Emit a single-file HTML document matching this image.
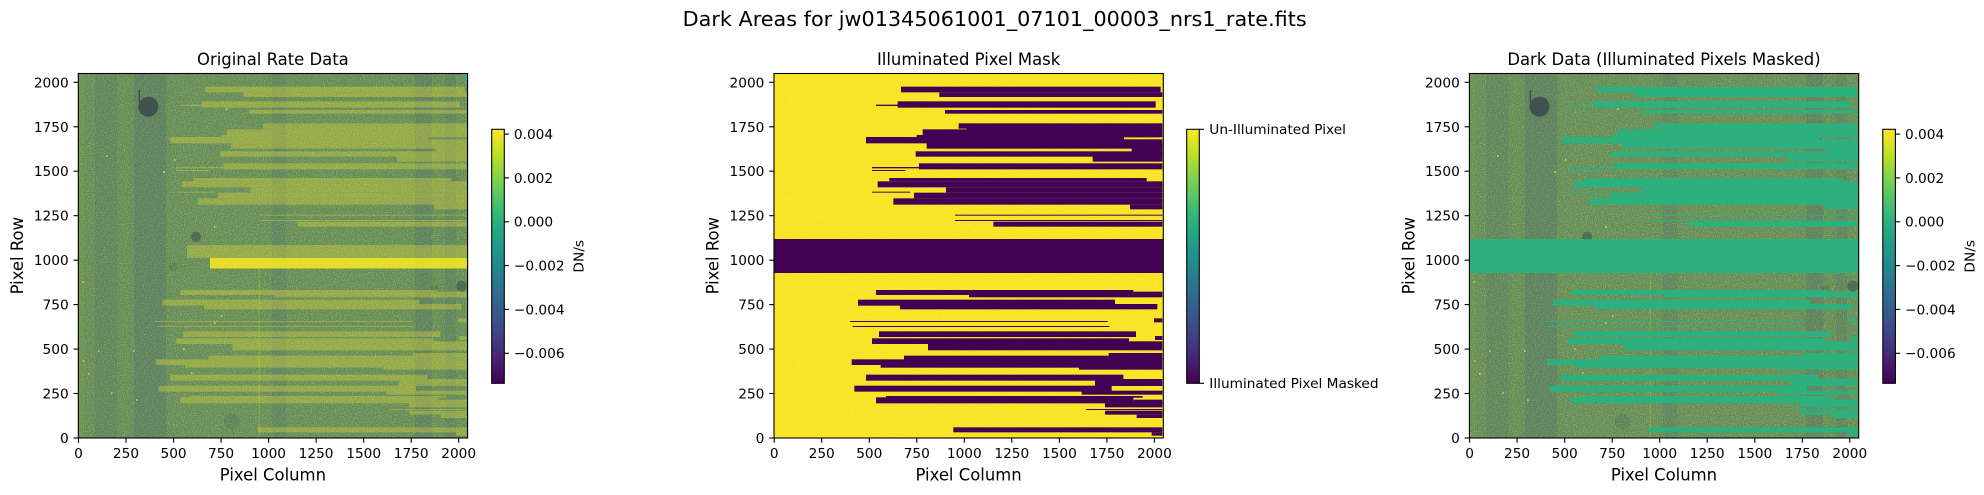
<!DOCTYPE html>
<html>
<head>
<meta charset="utf-8">
<style>
html,body{margin:0;padding:0;background:#fff;}
svg{display:block;}
text{font-family:"DejaVu Sans","Liberation Sans",sans-serif;fill:#000;}
</style>
</head>
<body>
<svg width="1984" height="495" viewBox="0 0 1984 495" xmlns="http://www.w3.org/2000/svg" xmlns:xlink="http://www.w3.org/1999/xlink">
<defs>
  <linearGradient id="vir" x1="0" y1="1" x2="0" y2="0">
    <stop offset="0" stop-color="#440154"/>
    <stop offset="0.1" stop-color="#482475"/>
    <stop offset="0.2" stop-color="#414487"/>
    <stop offset="0.3" stop-color="#355f8d"/>
    <stop offset="0.4" stop-color="#2a788e"/>
    <stop offset="0.5" stop-color="#21918c"/>
    <stop offset="0.6" stop-color="#22a884"/>
    <stop offset="0.7" stop-color="#44bf70"/>
    <stop offset="0.8" stop-color="#7ad151"/>
    <stop offset="0.9" stop-color="#bddf26"/>
    <stop offset="1" stop-color="#fde725"/>
  </linearGradient>
  <clipPath id="c1"><rect x="78.3" y="73.5" width="389.3" height="364.5"/></clipPath>
  <clipPath id="c2"><rect x="774" y="73.5" width="389.3" height="364.5"/></clipPath>
  <clipPath id="c3"><rect x="1469.4" y="73.5" width="389.3" height="364.5"/></clipPath>
  <filter id="grain" x="0" y="0" width="100%" height="100%">
    <feTurbulence type="fractalNoise" baseFrequency="0.9" numOctaves="1" seed="4"/>
    <feColorMatrix type="matrix" values="0 0 0 0 0.85  0 0 0 0 0.85  0 0 0 0 0.2  0 0 0 1.8 -0.8"/>
  </filter>
  <filter id="grainDark" x="0" y="0" width="100%" height="100%">
    <feTurbulence type="fractalNoise" baseFrequency="0.9" numOctaves="1" seed="9"/>
    <feColorMatrix type="matrix" values="0 0 0 0 0.22  0 0 0 0 0.27  0 0 0 0 0.45  0 0 0 1.8 -0.8"/>
  </filter>
  <filter id="speck" x="0" y="0" width="100%" height="100%">
    <feTurbulence type="fractalNoise" baseFrequency="0.95" numOctaves="1" seed="7"/>
    <feColorMatrix type="matrix" values="0 0 0 0 0.45  0 0 0 0 0.35  0 0 0 0 0.15  0 0 0 2.2 -1.35"/>
  </filter>

  <g id="bA">
    <rect x="393" y="50" width="779" height="17"/>
    <rect x="508" y="67" width="669" height="14"/>
    <rect x="383" y="94" width="774" height="19"/>
    <rect x="318" y="104" width="67" height="4"/>
    <rect x="525" y="120" width="652" height="11"/>
    <rect x="566" y="160" width="611" height="16"/>
    <rect x="590" y="175" width="587" height="4"/>
    <rect x="458" y="178" width="719" height="17"/>
    <rect x="440" y="195" width="737" height="7"/>
    <rect x="288" y="201" width="774" height="19"/>
    <rect x="1062" y="208" width="115" height="12"/>
    <rect x="470" y="219" width="707" height="17"/>
    <rect x="1085" y="219" width="92" height="43"/>
    <rect x="437" y="244" width="740" height="16"/>
    <rect x="968" y="259" width="209" height="16"/>
    <rect x="447" y="280" width="730" height="18"/>
    <rect x="306" y="291" width="141" height="4"/>
    <rect x="306" y="300" width="100" height="3"/>
    <rect x="358" y="324" width="772" height="10"/>
    <rect x="323" y="334" width="854" height="18"/>
    <rect x="528" y="352" width="649" height="16"/>
    <rect x="306" y="365" width="114" height="3"/>
    <rect x="432" y="368" width="745" height="17"/>
    <rect x="370" y="385" width="807" height="19"/>
    <rect x="1080" y="404" width="97" height="14"/>
    <rect x="555" y="434" width="622" height="3"/>
    <rect x="555" y="450" width="622" height="3"/>
    <rect x="670" y="455" width="507" height="15"/>
  </g>
  <g id="bB">
    <rect x="318" y="108" width="772" height="15"/>
    <rect x="597" y="123" width="580" height="7"/>
    <rect x="1090" y="113" width="87" height="10"/>
    <rect x="264" y="137" width="771" height="18"/>
    <rect x="390" y="150" width="772" height="16"/>
    <rect x="1152" y="193" width="25" height="12"/>
    <rect x="240" y="201" width="773" height="3"/>
    <rect x="248" y="216" width="770" height="3"/>
    <rect x="327" y="232" width="771" height="17"/>
    <rect x="1155" y="246" width="22" height="12"/>
    <rect x="306" y="253" width="771" height="17"/>
    <rect x="474" y="262" width="703" height="27"/>
    <rect x="1016" y="297" width="161" height="23"/>
    <rect x="402" y="305" width="614" height="15"/>
    <rect x="245" y="316" width="932" height="17"/>
    <rect x="332" y="333" width="595" height="8"/>
    <rect x="927" y="333" width="250" height="14"/>
    <rect x="288" y="362" width="772" height="18"/>
    <rect x="975" y="375" width="202" height="21"/>
    <rect x="253" y="395" width="772" height="18"/>
    <rect x="935" y="410" width="242" height="12"/>
    <rect x="348" y="426" width="770" height="5"/>
    <rect x="318" y="430" width="772" height="18"/>
    <rect x="1090" y="437" width="87" height="11"/>
    <rect x="1005" y="445" width="172" height="15"/>
    <rect x="948" y="465" width="229" height="3"/>
    <rect x="1005" y="470" width="172" height="12"/>
    <rect x="1100" y="482" width="77" height="10"/>
    <rect x="550" y="520" width="627" height="15"/>
    <rect x="1145" y="535" width="32" height="10"/>
  </g>

  <g id="bg">
    <rect x="78.3" y="73.5" width="389.3" height="364.5" fill="#5f8a50"/>
    <rect x="78.3" y="73.5" width="389.3" height="364.5" filter="url(#grain)" opacity="0.7"/>
    <rect x="78.3" y="73.5" width="389.3" height="364.5" filter="url(#grainDark)" opacity="0.7"/>
    <g fill="#3b5b7a">
      <rect x="95" y="73.5" width="22" height="364.5" opacity="0.12"/>
      <rect x="134" y="73.5" width="32" height="364.5" opacity="0.2"/>
      <rect x="272" y="73.5" width="14" height="364.5" opacity="0.15"/>
      <rect x="415" y="73.5" width="17" height="364.5" opacity="0.18"/>
      <rect x="445" y="73.5" width="11" height="364.5" opacity="0.15"/>
    </g>
    <rect x="78.3" y="73.5" width="6" height="364.5" fill="#8aa545" opacity="0.2"/>
    <g fill="#34404a">
      <circle cx="148.3" cy="106.7" r="10" opacity="0.75"/>
      <circle cx="196" cy="236.7" r="5" opacity="0.45"/>
      <circle cx="461.7" cy="286" r="5.5" opacity="0.45"/>
      <circle cx="231.7" cy="421.7" r="8" opacity="0.12"/>
      <circle cx="173.3" cy="266.7" r="4.5" opacity="0.15"/>
      <circle cx="435" cy="289" r="4" opacity="0.2"/>
    </g>
    <rect x="138.5" y="90" width="1.5" height="12" fill="#2e3a48" opacity="0.7"/>
    <rect x="258.7" y="266" width="1" height="172" fill="#e8dc35" opacity="0.3"/>
    <g fill="#e6dc38" opacity="0.8">
      <rect x="83" y="360" width="1.5" height="2"/><rect x="88" y="373" width="1.5" height="2"/>
      <rect x="98" y="350" width="1.5" height="2"/><rect x="111" y="392" width="1.5" height="2"/>
      <rect x="133" y="350" width="1.5" height="2"/><rect x="136" y="399" width="1.5" height="2"/>
      <rect x="174" y="159" width="1.5" height="2"/><rect x="183" y="348" width="1.5" height="2"/>
      <rect x="191" y="372" width="1.5" height="2"/><rect x="214" y="226" width="1.5" height="2"/>
      <rect x="226" y="108" width="1.5" height="2"/><rect x="221" y="315" width="1.5" height="2"/>
      <rect x="106" y="155" width="1.5" height="2"/><rect x="214" y="322" width="1.5" height="2"/>
      <rect x="163" y="171" width="2" height="2"/><rect x="82" y="281" width="1.5" height="2"/>
    </g>
  </g>
</defs>

<rect x="0" y="0" width="1984" height="495" fill="#ffffff"/>

<text x="994.7" y="26" font-size="20.6" text-anchor="middle" textLength="624" lengthAdjust="spacingAndGlyphs">Dark Areas for jw01345061001_07101_00003_nrs1_rate.fits</text>

<!-- Panel 1 -->
<g clip-path="url(#c1)">
  <use xlink:href="#bg"/>
  <g transform="translate(74.3,70) scale(0.333333)" fill="#eee232" opacity="0.33"><use xlink:href="#bA"/></g>
  <g transform="translate(74.3,254) scale(0.333333)" fill="#eee232" opacity="0.33"><use xlink:href="#bB"/></g>
  <rect x="187" y="245" width="281" height="13" fill="#e8e035" opacity="0.35"/>
  <rect x="210" y="258" width="258" height="10.5" fill="#f2e424" opacity="0.9"/>
  <rect x="463" y="73.5" width="5" height="8" fill="#2cb17e" opacity="0.8"/>
</g>
<rect x="78.3" y="73.5" width="389.3" height="364.5" fill="none" stroke="#000" stroke-width="1.1"/>
<text x="272.9" y="65" font-size="16.45" text-anchor="middle">Original Rate Data</text>

<!-- Panel 2 -->
<g clip-path="url(#c2)">
  <rect x="774" y="73.5" width="389.3" height="364.5" fill="#fbe527"/>
  <rect x="774" y="73.5" width="389.3" height="364.5" filter="url(#speck)" opacity="0.9"/>
  <g transform="translate(770,70) scale(0.333333)" fill="#440154"><use xlink:href="#bA"/></g>
  <g transform="translate(770,254) scale(0.333333)" fill="#440154"><use xlink:href="#bB"/></g>
  <rect x="774" y="239" width="389.3" height="34" fill="#440154"/>
</g>
<rect x="774" y="73.5" width="389.3" height="364.5" fill="none" stroke="#000" stroke-width="1.1"/>
<text x="968.6" y="65" font-size="16.45" text-anchor="middle">Illuminated Pixel Mask</text>

<!-- Panel 3 -->
<g clip-path="url(#c3)">
  <use xlink:href="#bg" transform="translate(1391.1,0)"/>
  <g transform="translate(1465.4,70) scale(0.333333)" fill="#2cb17e"><use xlink:href="#bA"/></g>
  <g transform="translate(1465.4,254) scale(0.333333)" fill="#2cb17e"><use xlink:href="#bB"/></g>
  <rect x="1469.4" y="239" width="389.3" height="34" fill="#2cb17e"/>
</g>
<rect x="1469.4" y="73.5" width="389.3" height="364.5" fill="none" stroke="#000" stroke-width="1.1"/>
<text x="1664" y="65" font-size="16.45" text-anchor="middle">Dark Data (Illuminated Pixels Masked)</text>

<!-- Ticks -->
<g stroke="#000" stroke-width="1.1">
  <line x1="78.5" y1="438" x2="78.5" y2="442.8"/><line x1="126" y1="438" x2="126" y2="442.8"/><line x1="173.6" y1="438" x2="173.6" y2="442.8"/><line x1="221.1" y1="438" x2="221.1" y2="442.8"/><line x1="268.6" y1="438" x2="268.6" y2="442.8"/><line x1="316.1" y1="438" x2="316.1" y2="442.8"/><line x1="363.7" y1="438" x2="363.7" y2="442.8"/><line x1="411.2" y1="438" x2="411.2" y2="442.8"/><line x1="458.7" y1="438" x2="458.7" y2="442.8"/>
  <line x1="774.2" y1="438" x2="774.2" y2="442.8"/><line x1="821.7" y1="438" x2="821.7" y2="442.8"/><line x1="869.3" y1="438" x2="869.3" y2="442.8"/><line x1="916.8" y1="438" x2="916.8" y2="442.8"/><line x1="964.3" y1="438" x2="964.3" y2="442.8"/><line x1="1011.8" y1="438" x2="1011.8" y2="442.8"/><line x1="1059.4" y1="438" x2="1059.4" y2="442.8"/><line x1="1106.9" y1="438" x2="1106.9" y2="442.8"/><line x1="1154.4" y1="438" x2="1154.4" y2="442.8"/>
  <line x1="1469.6" y1="438" x2="1469.6" y2="442.8"/><line x1="1517.1" y1="438" x2="1517.1" y2="442.8"/><line x1="1564.7" y1="438" x2="1564.7" y2="442.8"/><line x1="1612.2" y1="438" x2="1612.2" y2="442.8"/><line x1="1659.7" y1="438" x2="1659.7" y2="442.8"/><line x1="1707.2" y1="438" x2="1707.2" y2="442.8"/><line x1="1754.8" y1="438" x2="1754.8" y2="442.8"/><line x1="1802.3" y1="438" x2="1802.3" y2="442.8"/><line x1="1849.8" y1="438" x2="1849.8" y2="442.8"/>
  <line x1="73.5" y1="438" x2="78.3" y2="438"/><line x1="73.5" y1="393.5" x2="78.3" y2="393.5"/><line x1="73.5" y1="349.1" x2="78.3" y2="349.1"/><line x1="73.5" y1="304.6" x2="78.3" y2="304.6"/><line x1="73.5" y1="260.2" x2="78.3" y2="260.2"/><line x1="73.5" y1="215.7" x2="78.3" y2="215.7"/><line x1="73.5" y1="171.2" x2="78.3" y2="171.2"/><line x1="73.5" y1="126.8" x2="78.3" y2="126.8"/><line x1="73.5" y1="82.3" x2="78.3" y2="82.3"/>
  <line x1="769.2" y1="438" x2="774" y2="438"/><line x1="769.2" y1="393.5" x2="774" y2="393.5"/><line x1="769.2" y1="349.1" x2="774" y2="349.1"/><line x1="769.2" y1="304.6" x2="774" y2="304.6"/><line x1="769.2" y1="260.2" x2="774" y2="260.2"/><line x1="769.2" y1="215.7" x2="774" y2="215.7"/><line x1="769.2" y1="171.2" x2="774" y2="171.2"/><line x1="769.2" y1="126.8" x2="774" y2="126.8"/><line x1="769.2" y1="82.3" x2="774" y2="82.3"/>
  <line x1="1464.6" y1="438" x2="1469.4" y2="438"/><line x1="1464.6" y1="393.5" x2="1469.4" y2="393.5"/><line x1="1464.6" y1="349.1" x2="1469.4" y2="349.1"/><line x1="1464.6" y1="304.6" x2="1469.4" y2="304.6"/><line x1="1464.6" y1="260.2" x2="1469.4" y2="260.2"/><line x1="1464.6" y1="215.7" x2="1469.4" y2="215.7"/><line x1="1464.6" y1="171.2" x2="1469.4" y2="171.2"/><line x1="1464.6" y1="126.8" x2="1469.4" y2="126.8"/><line x1="1464.6" y1="82.3" x2="1469.4" y2="82.3"/>
</g>

<g font-size="13.7" text-anchor="middle">
  <text x="78.5" y="458">0</text><text x="126" y="458">250</text><text x="173.6" y="458">500</text><text x="221.1" y="458">750</text><text x="268.6" y="458">1000</text><text x="316.1" y="458">1250</text><text x="363.7" y="458">1500</text><text x="411.2" y="458">1750</text><text x="458.7" y="458">2000</text>
  <text x="774.2" y="458">0</text><text x="821.7" y="458">250</text><text x="869.3" y="458">500</text><text x="916.8" y="458">750</text><text x="964.3" y="458">1000</text><text x="1011.8" y="458">1250</text><text x="1059.4" y="458">1500</text><text x="1106.9" y="458">1750</text><text x="1154.4" y="458">2000</text>
  <text x="1469.6" y="458">0</text><text x="1517.1" y="458">250</text><text x="1564.7" y="458">500</text><text x="1612.2" y="458">750</text><text x="1659.7" y="458">1000</text><text x="1707.2" y="458">1250</text><text x="1754.8" y="458">1500</text><text x="1802.3" y="458">1750</text><text x="1849.8" y="458">2000</text>
</g>

<g font-size="13.7" text-anchor="end">
  <text x="68.7" y="443">0</text><text x="68.7" y="398.5">250</text><text x="68.7" y="354.1">500</text><text x="68.7" y="309.6">750</text><text x="68.7" y="265.2">1000</text><text x="68.7" y="220.7">1250</text><text x="68.7" y="176.2">1500</text><text x="68.7" y="131.8">1750</text><text x="68.7" y="87.3">2000</text>
  <text x="764.4" y="443">0</text><text x="764.4" y="398.5">250</text><text x="764.4" y="354.1">500</text><text x="764.4" y="309.6">750</text><text x="764.4" y="265.2">1000</text><text x="764.4" y="220.7">1250</text><text x="764.4" y="176.2">1500</text><text x="764.4" y="131.8">1750</text><text x="764.4" y="87.3">2000</text>
  <text x="1459.8" y="443">0</text><text x="1459.8" y="398.5">250</text><text x="1459.8" y="354.1">500</text><text x="1459.8" y="309.6">750</text><text x="1459.8" y="265.2">1000</text><text x="1459.8" y="220.7">1250</text><text x="1459.8" y="176.2">1500</text><text x="1459.8" y="131.8">1750</text><text x="1459.8" y="87.3">2000</text>
</g>

<g font-size="16.45" text-anchor="middle">
  <text x="272.9" y="480.5">Pixel Column</text>
  <text x="968.6" y="480.5">Pixel Column</text>
  <text x="1664" y="480.5">Pixel Column</text>
  <text transform="translate(23,255.7) rotate(-90)">Pixel Row</text>
  <text transform="translate(718.7,255.7) rotate(-90)">Pixel Row</text>
  <text transform="translate(1414.3,255.7) rotate(-90)">Pixel Row</text>
</g>

<rect x="491.7" y="129.3" width="12.6" height="254" fill="url(#vir)" stroke="#000" stroke-width="1.1"/>
<rect x="1186.7" y="129.3" width="12.6" height="254" fill="url(#vir)" stroke="#000" stroke-width="1.1"/>
<rect x="1882.8" y="129.3" width="12.6" height="254" fill="url(#vir)" stroke="#000" stroke-width="1.1"/>

<g stroke="#000" stroke-width="1.1">
  <line x1="504.3" y1="134.1" x2="509.1" y2="134.1"/><line x1="504.3" y1="177.9" x2="509.1" y2="177.9"/><line x1="504.3" y1="221.8" x2="509.1" y2="221.8"/><line x1="504.3" y1="265.6" x2="509.1" y2="265.6"/><line x1="504.3" y1="309.4" x2="509.1" y2="309.4"/><line x1="504.3" y1="353.3" x2="509.1" y2="353.3"/>
  <line x1="1199.3" y1="129.3" x2="1204.1" y2="129.3"/><line x1="1199.3" y1="383.3" x2="1204.1" y2="383.3"/>
  <line x1="1895.4" y1="134.1" x2="1900.2" y2="134.1"/><line x1="1895.4" y1="177.9" x2="1900.2" y2="177.9"/><line x1="1895.4" y1="221.8" x2="1900.2" y2="221.8"/><line x1="1895.4" y1="265.6" x2="1900.2" y2="265.6"/><line x1="1895.4" y1="309.4" x2="1900.2" y2="309.4"/><line x1="1895.4" y1="353.3" x2="1900.2" y2="353.3"/>
</g>

<g font-size="13.7">
  <text x="513.9" y="139">0.004</text><text x="513.9" y="182.8">0.002</text><text x="513.9" y="226.7">0.000</text><text x="513.9" y="270.5">−0.002</text><text x="513.9" y="314.3">−0.004</text><text x="513.9" y="358.2">−0.006</text>
  <text x="1209.3" y="134.2">Un-Illuminated Pixel</text>
  <text x="1209.3" y="388.2">Illuminated Pixel Masked</text>
  <text x="1905" y="139">0.004</text><text x="1905" y="182.8">0.002</text><text x="1905" y="226.7">0.000</text><text x="1905" y="270.5">−0.002</text><text x="1905" y="314.3">−0.004</text><text x="1905" y="358.2">−0.006</text>
  <text transform="translate(583.3,256.3) rotate(-90)" text-anchor="middle">DN/s</text>
  <text transform="translate(1974.4,256.3) rotate(-90)" text-anchor="middle">DN/s</text>
</g>
</svg>
</body>
</html>
